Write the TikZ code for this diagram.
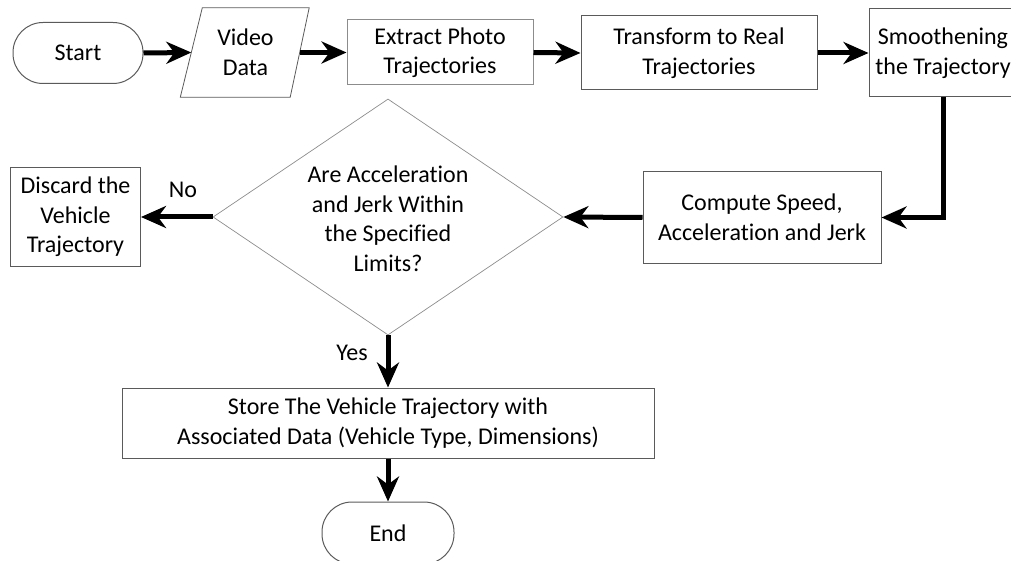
\documentclass[tikz,border=0pt]{standalone}
\usepackage{fontspec}
\setmainfont{Carlito}[Ligatures={NoCommon}]
\usetikzlibrary{arrows.meta,shapes.geometric}
\definecolor{edge}{RGB}{90,90,90}
\definecolor{lightedge}{RGB}{140,140,140}
\tikzset{
  txt/.style={font=\fontsize{24}{29.5}\selectfont, align=center, inner sep=0pt},
  box/.style={txt, draw=edge, line width=1pt, rectangle},
  term/.style={txt, draw=edge, line width=1pt, rectangle, rounded corners=30pt},
  flow/.style={line width=5pt, -{Stealth[length=25pt,width=22pt,inset=8pt]}},
}
\begin{document}
\begin{tikzpicture}[x=1pt,y=-1pt]
\useasboundingbox (0,0) rectangle (1011,561);
\clip (0,0) rectangle (1011,561);
% nodes
\node[term, minimum width=130, minimum height=61] (start) at (78,53) {Start};
\node[txt, minimum width=108, minimum height=89] (video) at (245.5,52.5) {Video\\Data};
\draw[edge, line width=0.8pt] ([xshift=11pt]video.north west) -- ([xshift=9.5pt]video.north east)
  -- ([xshift=-9.5pt]video.south east) -- ([xshift=-11pt]video.south west) -- cycle;
\node[box, draw=lightedge, minimum width=186, minimum height=65] (extract) at (440,52.5) {Extract Photo\\Trajectories};
\node[box, minimum width=236, minimum height=74] (transform) at (699,53) {Transform to Real\\Trajectories};
\node[box, minimum width=148, minimum height=88] (smooth) at (943,53) {Smoothening\\the Trajectory};
\node[box, minimum width=238, minimum height=91] (compute) at (762,217.5) {Compute Speed,\\Acceleration and Jerk};
\node[diamond, draw=lightedge, line width=0.7pt, inner sep=0pt, minimum width=350, minimum height=236] (dec) at (388,217) {};
\node[txt] (dectext) at (388,219) {Are Acceleration\\and Jerk Within\\the Specified\\Limits?};
\node[box, minimum width=130, minimum height=98] (discard) at (75.5,217) {Discard the\\Vehicle\\Trajectory};
\node[box, minimum width=532, minimum height=70] (store) at (388,423) {Store The Vehicle Trajectory with\\Associated Data (Vehicle Type, Dimensions)};
\node[term, minimum width=132, minimum height=62] (end) at (388,533) {End};
\node[txt] (no) at (183,190) {No};
\node[txt] (yes) at (352,353) {Yes};
% connectors
\draw[flow] (start.east) -- (video.west);
\draw[flow] (video.east) -- (extract.west);
\draw[flow] (extract.east) -- (transform.west);
\draw[flow] (transform.east) -- (smooth.west);
\draw[flow] (smooth.south) |- (compute.east);
\draw[flow] (compute.west) -- (dec.east);
\draw[flow] (dec.west) -- (discard.east);
\draw[flow] (dec.south) -- (store.north);
\draw[flow] (store.south) -- (end.north);
\end{tikzpicture}
\end{document}
